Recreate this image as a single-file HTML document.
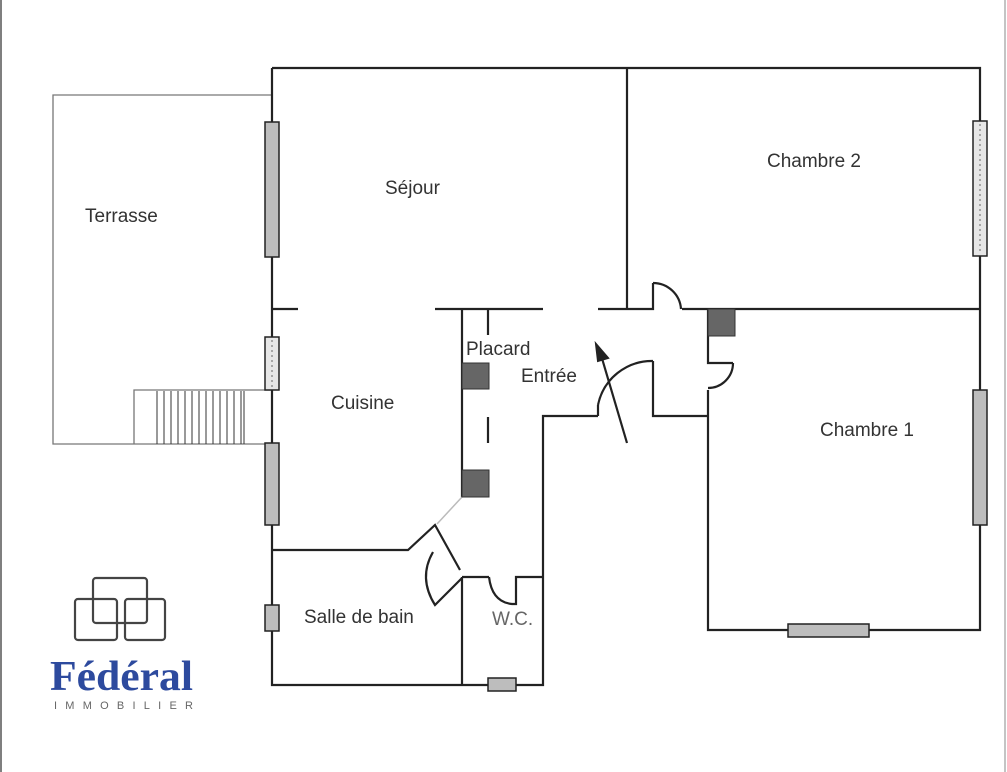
<!DOCTYPE html>
<html><head><meta charset="utf-8"><style>
html,body{margin:0;padding:0;background:#fff;}
svg{display:block;}
text{font-family:"Liberation Sans",sans-serif;fill:#333;}
</style></head><body>
<svg width="1007" height="772" viewBox="0 0 1007 772" xmlns="http://www.w3.org/2000/svg">
<rect width="1007" height="772" fill="#fff"/>
<line x1="1" y1="0" x2="1" y2="772" stroke="#555" stroke-width="1.5"/>
<line x1="1005" y1="0" x2="1005" y2="772" stroke="#888" stroke-width="1"/>
<!-- terrace -->
<g stroke="#777" stroke-width="1.3" fill="none">
<path d="M272,95 H53 V444 H272"/>
<path d="M134,444 V390 H272"/>
</g>
<g stroke="#333" stroke-width="1">
<line x1="157" y1="391" x2="157" y2="444"/><line x1="164" y1="391" x2="164" y2="444"/>
<line x1="171" y1="391" x2="171" y2="444"/><line x1="178" y1="391" x2="178" y2="444"/>
<line x1="185" y1="391" x2="185" y2="444"/><line x1="192" y1="391" x2="192" y2="444"/>
<line x1="199" y1="391" x2="199" y2="444"/><line x1="206" y1="391" x2="206" y2="444"/>
<line x1="213" y1="391" x2="213" y2="444"/><line x1="220" y1="391" x2="220" y2="444"/>
<line x1="227" y1="391" x2="227" y2="444"/><line x1="234" y1="391" x2="234" y2="444"/>
<line x1="241" y1="391" x2="241" y2="444"/><line x1="244" y1="391" x2="244" y2="444"/>
</g>
<!-- walls -->
<g stroke="#222" stroke-width="2.2" fill="none">
<path d="M272,68 H980 V630 H708 V390"/>
<path d="M272,68 V685 H543 V416 H598"/>
<line x1="627" y1="68" x2="627" y2="309"/>
<path d="M682,309 H980"/>
<path d="M598,309 H653 V283"/>
<path d="M653,283 A28,28 0 0 1 681,309"/>
<path d="M708,309 V363 H733"/>
<path d="M733,363 A25,25 0 0 1 708,388"/>
<path d="M598,416 V405"/>
<path d="M598,405 A55,55 0 0 1 653,361"/>
<path d="M653,361 V416 H708"/>
<path d="M272,309 H298"/>
<path d="M435,309 H543"/>
<path d="M462,309 V497"/>
<path d="M488,309 V335 M488,417 V443"/>
<path d="M462,577 V685"/>
<path d="M272,550 H408 L435,525 L460,570"/>
<path d="M433,552 Q418,578 435,605 L462,578"/>
<path d="M462,577 H489"/>
<path d="M489,577 Q492,602 512,604 H516 V577 H543"/>
<path d="M627,443 L601,355"/>
</g>
<line x1="462" y1="497" x2="437" y2="524" stroke="#bbb" stroke-width="1.5"/>
<polygon points="596,344 608,358 598,361" fill="#222" stroke="#222" stroke-width="2"/>
<!-- windows -->
<g stroke="#222" stroke-width="1.5" fill="#bdbdbd">
<rect x="265" y="122" width="14" height="135"/>
<rect x="265" y="443" width="14" height="82"/>
<rect x="265" y="605" width="14" height="26"/>
<rect x="488" y="678" width="28" height="13"/>
<rect x="973" y="390" width="14" height="135"/>
<rect x="788" y="624" width="81" height="13"/>
<rect x="265" y="337" width="14" height="53" fill="#e6e6e6"/>
<rect x="973" y="121" width="14" height="135" fill="#e6e6e6"/>
</g>
<g stroke="#666" stroke-width="1" stroke-dasharray="2,3">
<line x1="272" y1="340" x2="272" y2="388"/><line x1="980" y1="124" x2="980" y2="254"/>
</g>
<g fill="#666" stroke="#333" stroke-width="1">
<rect x="462" y="363" width="27" height="26"/>
<rect x="462" y="470" width="27" height="27"/>
<rect x="708" y="309" width="27" height="27"/>
</g>
<!-- labels -->
<g font-size="19">
<text x="85" y="222">Terrasse</text>
<text x="385" y="194">Séjour</text>
<text x="767" y="167">Chambre 2</text>
<text x="331" y="409">Cuisine</text>
<text x="466" y="355">Placard</text>
<text x="521" y="382">Entrée</text>
<text x="820" y="436">Chambre 1</text>
<text x="304" y="623">Salle de bain</text>
<text x="492" y="625" style="fill:#666">W.C.</text>
</g>
<!-- logo -->
<g stroke="#444" stroke-width="2.2" fill="none">
<rect x="75" y="599" width="42" height="41" rx="3"/>
<rect x="93" y="578" width="54" height="45" rx="3"/>
<rect x="125" y="599" width="40" height="41" rx="3"/>
</g>
<text x="50" y="690" textLength="143" lengthAdjust="spacingAndGlyphs" style="font-family:'Liberation Serif',serif;font-weight:bold;font-size:42px;fill:#2d4a9e">Fédéral</text>
<text x="54" y="709" textLength="139" style="font-size:11px;fill:#666">IMMOBILIER</text>
</svg>
</body></html>
